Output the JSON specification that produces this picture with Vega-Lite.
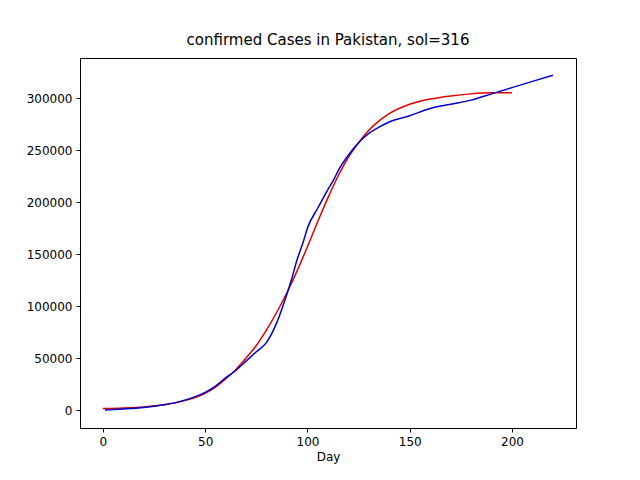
{
  "$schema": "https://vega.github.io/schema/vega-lite/v6.json",
  "width": 496,
  "height": 370,
  "autosize": {"type": "none"},
  "padding": {"left": 80, "top": 58, "right": 64, "bottom": 52},
  "background": "white",
  "title": {"text": "confirmed Cases in Pakistan, sol=316", "fontSize": 15, "font": "DejaVu Sans", "fontWeight": "normal", "offset": 10},
  "data": {"values": [
    {"day": 0, "cases": 1500, "s": "fit"}, {"day": 10, "cases": 2000, "s": "fit"}, {"day": 20, "cases": 3000, "s": "fit"},
    {"day": 30, "cases": 5000, "s": "fit"}, {"day": 40, "cases": 9000, "s": "fit"}, {"day": 50, "cases": 16000, "s": "fit"},
    {"day": 55, "cases": 22000, "s": "fit"}, {"day": 60, "cases": 30000, "s": "fit"}, {"day": 65, "cases": 39000, "s": "fit"},
    {"day": 70, "cases": 50000, "s": "fit"}, {"day": 75, "cases": 62000, "s": "fit"}, {"day": 80, "cases": 77000, "s": "fit"},
    {"day": 85, "cases": 94000, "s": "fit"}, {"day": 90, "cases": 113000, "s": "fit"}, {"day": 95, "cases": 134000, "s": "fit"},
    {"day": 100, "cases": 157000, "s": "fit"}, {"day": 105, "cases": 181000, "s": "fit"}, {"day": 110, "cases": 204000, "s": "fit"},
    {"day": 115, "cases": 225000, "s": "fit"}, {"day": 120, "cases": 243000, "s": "fit"}, {"day": 125, "cases": 257000, "s": "fit"},
    {"day": 130, "cases": 269000, "s": "fit"}, {"day": 135, "cases": 278000, "s": "fit"}, {"day": 140, "cases": 285000, "s": "fit"},
    {"day": 150, "cases": 294000, "s": "fit"}, {"day": 160, "cases": 299000, "s": "fit"}, {"day": 170, "cases": 302000, "s": "fit"},
    {"day": 180, "cases": 304000, "s": "fit"}, {"day": 190, "cases": 305000, "s": "fit"}, {"day": 200, "cases": 305000, "s": "fit"},
    {"day": 1, "cases": 0, "s": "data"}, {"day": 10, "cases": 1000, "s": "data"}, {"day": 20, "cases": 2500, "s": "data"},
    {"day": 30, "cases": 5000, "s": "data"}, {"day": 40, "cases": 9500, "s": "data"}, {"day": 50, "cases": 17000, "s": "data"},
    {"day": 55, "cases": 23000, "s": "data"}, {"day": 60, "cases": 31000, "s": "data"}, {"day": 65, "cases": 38000, "s": "data"},
    {"day": 70, "cases": 47000, "s": "data"}, {"day": 75, "cases": 56000, "s": "data"}, {"day": 80, "cases": 65000, "s": "data"},
    {"day": 85, "cases": 84000, "s": "data"}, {"day": 88, "cases": 100000, "s": "data"}, {"day": 92, "cases": 124000, "s": "data"},
    {"day": 95, "cases": 145000, "s": "data"}, {"day": 98, "cases": 162000, "s": "data"}, {"day": 100, "cases": 175000, "s": "data"},
    {"day": 105, "cases": 194000, "s": "data"}, {"day": 110, "cases": 212000, "s": "data"}, {"day": 113, "cases": 222000, "s": "data"},
    {"day": 115, "cases": 230000, "s": "data"}, {"day": 120, "cases": 245000, "s": "data"}, {"day": 125, "cases": 257000, "s": "data"},
    {"day": 130, "cases": 266000, "s": "data"}, {"day": 135, "cases": 272000, "s": "data"}, {"day": 140, "cases": 277000, "s": "data"},
    {"day": 150, "cases": 283000, "s": "data"}, {"day": 160, "cases": 290000, "s": "data"}, {"day": 170, "cases": 294000, "s": "data"},
    {"day": 180, "cases": 298000, "s": "data"}, {"day": 190, "cases": 304000, "s": "data"}, {"day": 200, "cases": 310000, "s": "data"},
    {"day": 210, "cases": 316000, "s": "data"}, {"day": 220, "cases": 322000, "s": "data"}
  ]},
  "mark": {"type": "line", "strokeWidth": 1.5, "interpolate": "monotone"},
  "encoding": {
    "x": {"field": "day", "type": "quantitative", "title": "Day",
      "scale": {"domain": [-11.2, 231.3], "nice": false, "zero": false},
      "axis": {"values": [0, 50, 100, 150, 200]}},
    "y": {"field": "cases", "type": "quantitative", "title": null,
      "scale": {"domain": [-17300, 338500], "nice": false, "zero": false},
      "axis": {"values": [0, 50000, 100000, 150000, 200000, 250000, 300000], "format": "d"}},
    "color": {"field": "s", "type": "nominal", "scale": {"domain": ["fit", "data"], "range": ["#e00000", "#0000cc"]}, "legend": null},
    "order": {"field": "day"}
  },
  "config": {
    "view": {"stroke": "black", "strokeWidth": 1},
    "axis": {"grid": false, "domain": false, "tickColor": "black", "tickSize": 4, "labelColor": "black",
      "labelFont": "DejaVu Sans", "labelFontSize": 12, "titleFont": "DejaVu Sans", "titleFontSize": 12,
      "titleFontWeight": "normal", "titleColor": "black", "labelPadding": 4}
  }
}
